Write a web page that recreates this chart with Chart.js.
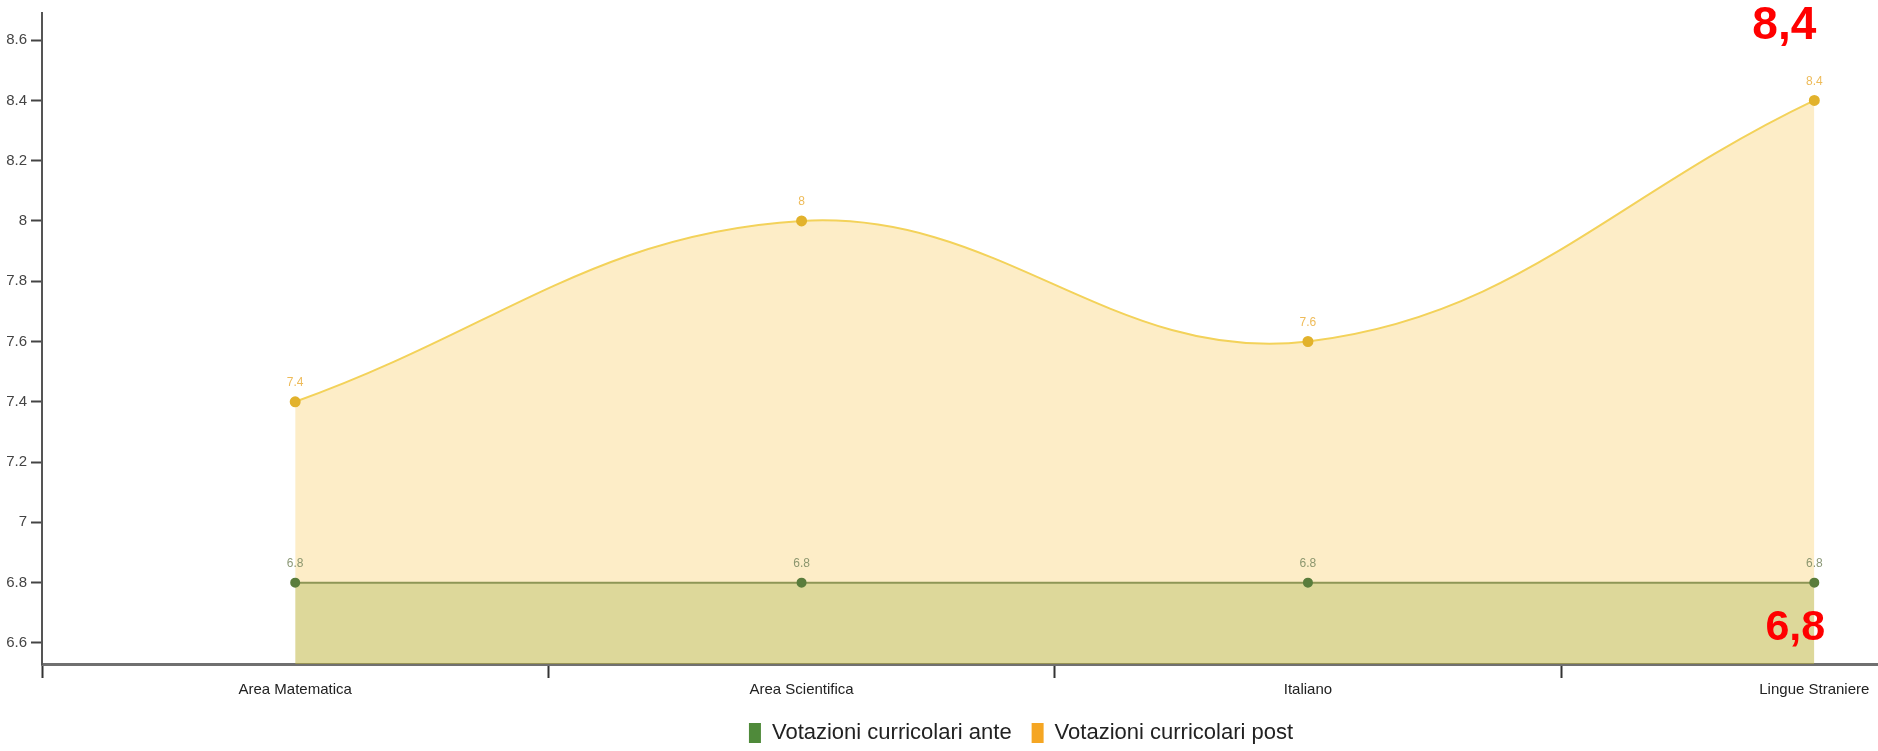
<!DOCTYPE html>
<html lang="it">
<head>
  <meta charset="UTF-8">
  <title>Votazioni curricolari</title>
  <script src="https://cdn.jsdelivr.net/npm/chart.js"></script>
  <style>
    html, body {
      margin: 0;
      padding: 0;
      background: #fff;
      overflow: hidden;
      width: 1878px;
      height: 751px;
    }
    #grafico {
      position: absolute;
      left: -32px;
      top: 0;
    }
  </style>
</head>
<body>
  <canvas id="grafico" width="2106" height="754"></canvas>

  <script>
    // dati
    const aree = ['Area Matematica', 'Area Scientifica', 'Italiano', 'Lingue Straniere'];
    const votiAnte = [6.8, 6.8, 6.8, 6.8];
    const votiPost = [7.4, 8, 7.6, 8.4];
    const nomiSerie = ['Votazioni curricolari ante', 'Votazioni curricolari post'];
    const tickY = [6.6, 6.8, 7, 7.2, 7.4, 7.6, 7.8, 8, 8.2, 8.4, 8.6];
    const minY = 6.53;
    const maxY = 8.69;
    // note in rosso sopra l'ultima area
    const note = ['8,4', '6,8'];

    const coloriLegenda = ['#4f8a3a', '#f5a623'];
    const font = '"Liberation Sans", Arial, sans-serif';

    // etichette con il valore sopra ogni punto + note rosse
    const etichettePlugin = {
      id: 'etichette',
      afterDatasetsDraw(chart) {
        const ctx = chart.ctx;
        ctx.save();
        ctx.textAlign = 'center';
        ctx.textBaseline = 'bottom';
        ctx.font = '12px ' + font;
        chart.data.datasets.forEach((ds, i) => {
          const meta = chart.getDatasetMeta(i);
          ctx.fillStyle = i === 0 ? 'rgba(120,135,95,0.85)' : 'rgba(235,175,60,0.85)';
          meta.data.forEach((p, j) => {
            ctx.fillText(String(ds.data[j]), p.x, p.y - 13);
          });
        });

        // note rosse agganciate all'ultimo punto di ogni serie
        const ultimo = aree.length - 1;
        const pPost = chart.getDatasetMeta(1).data[ultimo];
        const pAnte = chart.getDatasetMeta(0).data[ultimo];
        ctx.fillStyle = '#ff0000';
        ctx.textBaseline = 'alphabetic';
        ctx.font = 'bold 46px ' + font;
        ctx.fillText(note[0], pPost.x - 30, chart.chartArea.top + 26);
        ctx.font = 'bold 43px ' + font;
        ctx.fillText(note[1], pAnte.x - 19, pAnte.y + 57);
        ctx.restore();
      }
    };

    const ctx = document.getElementById('grafico').getContext('2d');

    new Chart(ctx, {
      type: 'line',
      data: {
        labels: aree,
        datasets: [
          {
            label: nomiSerie[0],
            data: votiAnte,
            borderColor: '#8e9656',
            borderWidth: 2,
            backgroundColor: 'rgba(140,160,40,0.28)',
            fill: 'start',
            pointRadius: 4,
            pointBackgroundColor: '#5a7d3c',
            pointBorderColor: '#5a7d3c',
            tension: 0.4
          },
          {
            label: nomiSerie[1],
            data: votiPost,
            borderColor: '#f3d25a',
            borderWidth: 2,
            backgroundColor: 'rgba(250,200,80,0.32)',
            fill: 'start',
            pointRadius: 4.5,
            pointBackgroundColor: '#e2b22c',
            pointBorderColor: '#e2b22c',
            tension: 0.4
          }
        ]
      },
      options: {
        responsive: false,
        animation: false,
        layout: {
          padding: { top: 13, right: 0, bottom: 0, left: 0 }
        },
        plugins: {
          tooltip: { enabled: false },
          legend: {
            position: 'bottom',
            labels: {
              boxWidth: 12,
              boxHeight: 20,
              padding: 20,
              color: '#222',
              font: { family: font, size: 22 },
              generateLabels(chart) {
                const items = Chart.defaults.plugins.legend.labels.generateLabels(chart);
                items.forEach((it, i) => {
                  it.fillStyle = coloriLegenda[i];
                  it.strokeStyle = coloriLegenda[i];
                  it.lineWidth = 0;
                });
                return items;
              }
            }
          }
        },
        scales: {
          x: {
            offset: true,
            grid: {
              offset: true,
              drawOnChartArea: false,
              drawTicks: true,
              tickLength: 14,
              tickWidth: 2,
              color: '#333'
            },
            border: { color: '#707070', width: 3 },
            ticks: {
              color: '#222',
              padding: 3,
              maxRotation: 0,
              font: { family: font, size: 15 }
            }
          },
          y: {
            min: minY,
            max: maxY,
            afterBuildTicks(scale) {
              scale.ticks = tickY.map((v) => ({ value: v }));
            },
            afterFit(scale) {
              scale.width = 74;
            },
            grid: {
              drawOnChartArea: false,
              drawTicks: true,
              tickLength: 11,
              tickWidth: 2,
              color: '#444'
            },
            border: { color: '#555', width: 2 },
            ticks: {
              color: '#444',
              padding: 4,
              font: { family: font, size: 15 },
              callback: (v) => String(+Number(v).toFixed(2))
            }
          }
        }
      },
      plugins: [etichettePlugin]
    });
  </script>
</body>
</html>
